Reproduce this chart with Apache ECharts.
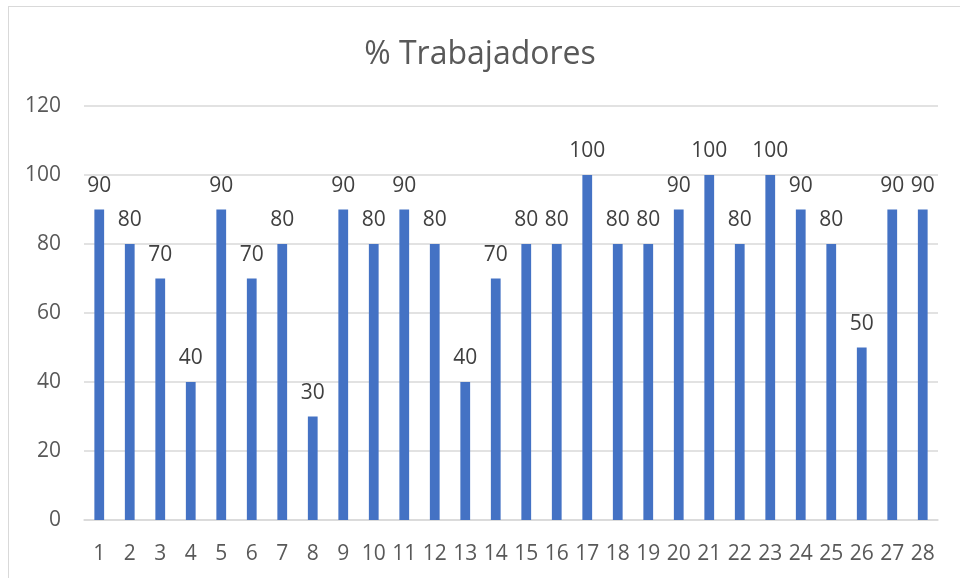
<!DOCTYPE html>
<html><head><meta charset="utf-8">
<script src="https://cdn.jsdelivr.net/npm/echarts@6/dist/echarts.min.js"></script>
<style>html,body{margin:0;padding:0;background:#fff}#c{width:960px;height:578px}
#b{position:absolute;left:8px;top:6px;width:1000px;height:600px;border:1px solid #d9d9d9;box-sizing:border-box;pointer-events:none}</style>
</head><body><div id="c"></div><div id="b"></div>
<script>
const categories = ["1","2","3","4","5","6","7","8","9","10","11","12","13","14","15","16","17","18","19","20","21","22","23","24","25","26","27","28"];
const values = [90,80,70,40,90,70,80,30,90,80,90,80,40,70,80,80,100,80,80,90,100,80,100,90,80,50,90,90];
const yTicks = {min:0, max:120, interval:20};
const font = "'Open Sans', 'Noto Sans', sans-serif";
const chart = echarts.init(document.getElementById('c'));
chart.setOption({
  animation:false,
  title:{text:'% Trabajadores', left:'center', top:34, textStyle:{fontFamily:font, fontSize:32, fontWeight:'normal', color:'#595959'}},
  grid:{left:84, right:22, top:106, bottom:58},
  xAxis:{type:'category', data:categories, axisTick:{show:false}, axisLine:{lineStyle:{color:'#d9d9d9', width:1.5}},
    axisLabel:{interval:0, hideOverlap:false, fontFamily:font, fontSize:21, color:'#595959', margin:24}},
  yAxis:{type:'value', min:yTicks.min, max:yTicks.max, interval:yTicks.interval, axisLine:{show:false}, axisTick:{show:false},
    splitLine:{lineStyle:{color:'#d9d9d9', width:1.5}},
    axisLabel:{fontFamily:font, fontSize:21, color:'#595959', margin:23}},
  series:[{type:'bar', data:values, barWidth:'32%', itemStyle:{color:'#4472c4'},
    label:{show:true, position:'top', distance:13, fontFamily:font, fontSize:21, color:'#404040'}}]
});
</script></body></html>
